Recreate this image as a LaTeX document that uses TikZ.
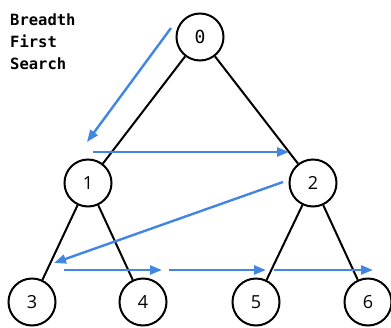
\documentclass[tikz,border=0pt]{standalone}
\usepackage{fontspec}
\setmonofont{DejaVu Sans Mono}
\setsansfont{Open Sans}
\usetikzlibrary{arrows.meta}
\definecolor{bfsblue}{RGB}{66,134,228}
\begin{document}
\begin{tikzpicture}[x=1pt,y=-1pt,
  vertex/.style={draw,circle,line width=2pt,minimum size=47pt,inner sep=0pt,
    font=\sffamily\fontsize{18}{18}\selectfont},
  edge/.style={line width=2pt},
  visit/.style={bfsblue,line width=2.4pt,-{Triangle[length=12pt,width=9pt]}},
  caption/.style={font=\ttfamily\bfseries\fontsize{15.5}{22}\selectfont,align=left,anchor=north west,inner sep=0pt}]
\useasboundingbox (0,0) rectangle (391,327);

% tree vertices
\node[vertex] (n0) at (200,37) {\ttfamily 0};
\node[vertex] (n1) at (88,183) {1};
\node[vertex] (n2) at (313,183) {2};
\node[vertex] (n3) at (32,302) {3};
\node[vertex] (n4) at (143,302) {4};
\node[vertex] (n5) at (256,302) {5};
\node[vertex] (n6) at (368,302) {6};

% tree edges
\draw[edge] (n0) -- (n1);
\draw[edge] (n0) -- (n2);
\draw[edge] (n1) -- (n3);
\draw[edge] (n1) -- (n4);
\draw[edge] (n2) -- (n5);
\draw[edge] (n2) -- (n6);

% title
\node[caption] (title) at (10,14) {Breadth\\First\\Search};

% traversal order
\coordinate (a1) at (171,28);
\coordinate (a2) at (87,142);
\coordinate (b1) at (93,152);
\coordinate (b2) at (289,152);
\coordinate (c1) at (283,182);
\coordinate (c2) at (54,263);
\coordinate (d1) at (64,270);
\coordinate (d2) at (162,270);
\coordinate (e1) at (169,270);
\coordinate (e2) at (266,270);
\coordinate (f1) at (274,270);
\coordinate (f2) at (373,270);
\draw[visit] (a1) -- (a2);
\draw[visit] (b1) -- (b2);
\draw[visit] (c1) -- (c2);
\draw[visit] (d1) -- (d2);
\draw[visit] (e1) -- (e2);
\draw[visit] (f1) -- (f2);
\end{tikzpicture}
\end{document}
